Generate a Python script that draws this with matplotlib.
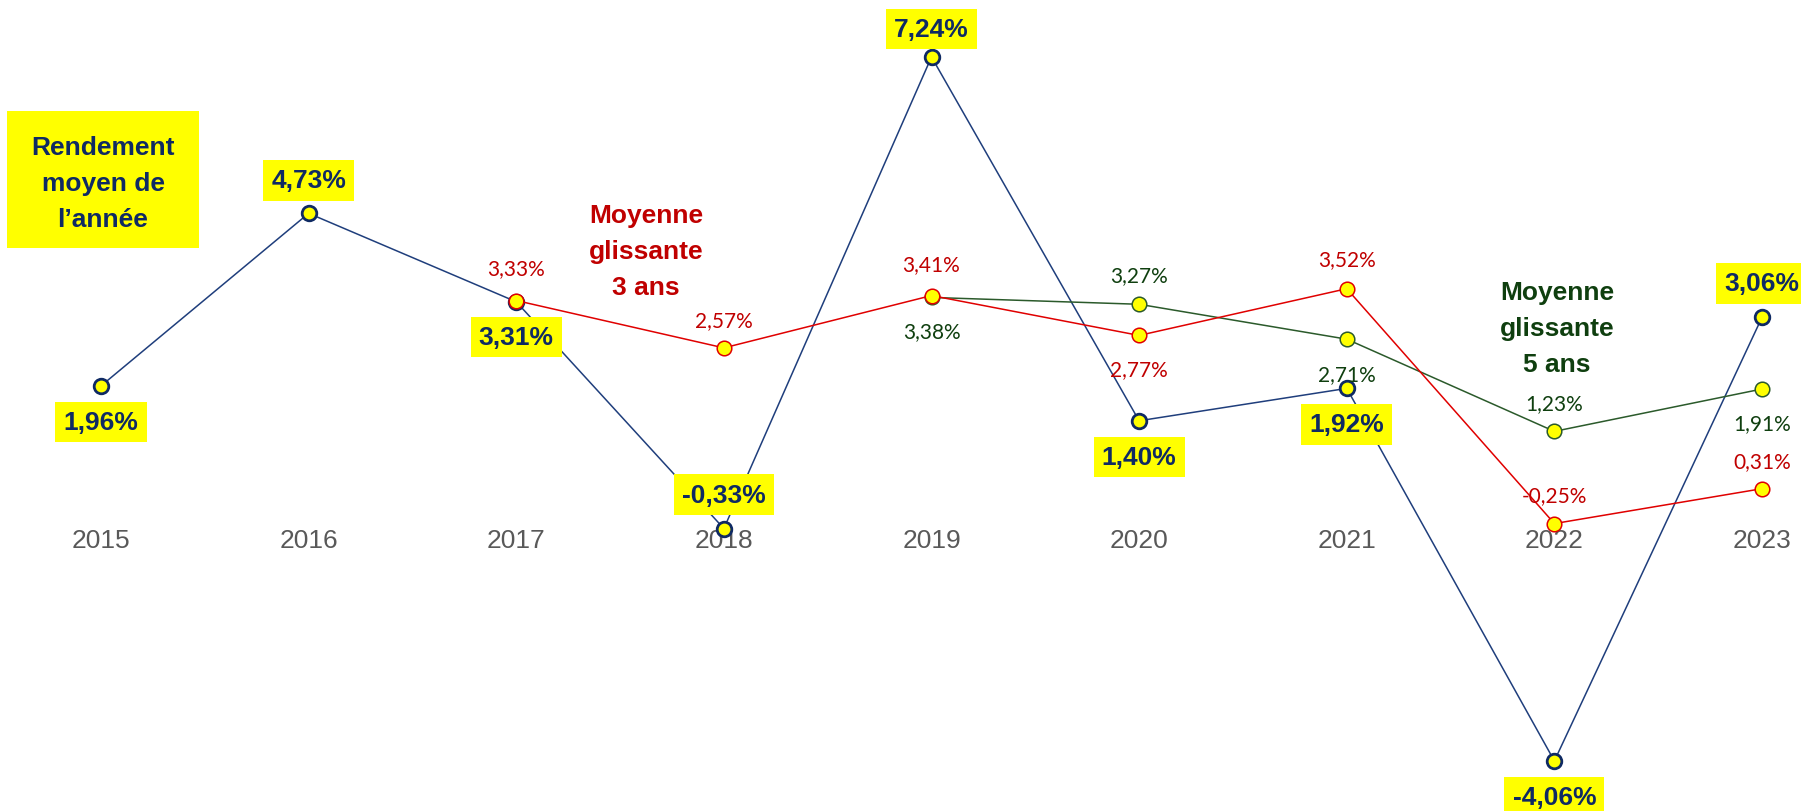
import matplotlib
matplotlib.use("Agg")
import matplotlib.pyplot as plt
from matplotlib.patches import Rectangle

# ---- data ----
years = [2015, 2016, 2017, 2018, 2019, 2020, 2021, 2022, 2023]
rendement = [1.96, 4.73, 3.31, -0.33, 7.24, 1.40, 1.92, -4.06, 3.06]
moy3_years = [2017, 2018, 2019, 2020, 2021, 2022, 2023]
moy3 = [3.33, 2.57, 3.41, 2.77, 3.52, -0.25, 0.31]
moy5_years = [2019, 2020, 2021, 2022, 2023]
moy5 = [3.38, 3.27, 2.71, 1.23, 1.91]

# label offsets (pixels, vertical)
off_rend = [-36, 33, -35, 34, 28, -36, -36, -36, 34]
off_m3 = [32, 28, 31, -34, 30, 28, 28]
off_m5 = [-34, 29, -35, 28, -34]

NAVY = "#0F2A63"
BLUE_LINE = "#1F3E7C"
RED = "#C00000"
RED_LINE = "#E00000"
GREEN = "#0F3F0F"
GREEN_LINE = "#2B5A2B"
YELLOW = "#FFFF00"

def fmt(v):
    return f"{v:.2f}".replace(".", ",") + "%"

W, H = 1801, 812
fig = plt.figure(figsize=(W / 100, H / 100), dpi=100)
ax = fig.add_axes([0, 0, 1, 1])
ax.axis("off")

px_per_year = (1762 - 101) / 8
px_per_unit = 62.3
zero_px = 509
ax.set_xlim(2015 - 101 / px_per_year, 2015 + (W - 101) / px_per_year)
ax.set_ylim(-(H - zero_px) / px_per_unit, zero_px / px_per_unit)

# lines
ax.plot(years, rendement, color=BLUE_LINE, lw=1.1, marker="o", ms=10.5,
        mfc=YELLOW, mec=NAVY, mew=2.0, zorder=2)
ax.plot(moy5_years, moy5, color=GREEN_LINE, lw=1.1, marker="o", ms=10.5,
        mfc=YELLOW, mec=GREEN_LINE, mew=1.1, zorder=3)
ax.plot(moy3_years, moy3, color=RED_LINE, lw=1.1, marker="o", ms=10.5,
        mfc=YELLOW, mec=RED_LINE, mew=1.1, zorder=4)

BOLD = ["Liberation Sans", "DejaVu Sans"]
SMALL = ["Lato", "DejaVu Sans"]

for x, v, o in zip(years, rendement, off_rend):
    ax.annotate(fmt(v), (x, v), xytext=(0, o), textcoords="offset pixels",
                ha="center", va="center", fontsize=19, fontweight="bold",
                family=BOLD, color=NAVY, zorder=6,
                bbox=dict(boxstyle="square,pad=0.31", fc=YELLOW, ec="none"))

for x, v, o in zip(moy3_years, moy3, off_m3):
    ax.annotate(fmt(v), (x, v), xytext=(0, o), textcoords="offset pixels",
                ha="center", va="center", fontsize=15, family=SMALL,
                color=RED, zorder=5)

for x, v, o in zip(moy5_years, moy5, off_m5):
    ax.annotate(fmt(v), (x, v), xytext=(0, o), textcoords="offset pixels",
                ha="center", va="center", fontsize=15, family=SMALL,
                color=GREEN, zorder=5)

# year labels at the zero axis
for x in years:
    ax.annotate(str(x), (x, 0), xytext=(0, -32), textcoords="offset pixels",
                ha="center", va="center", fontsize=19, family=BOLD,
                color="#595959", zorder=1)

# explanatory texts
fig.patches.append(Rectangle((7 / W, 1 - 249 / H), 192 / W, 137 / H,
                             transform=fig.transFigure, fc=YELLOW, ec="none",
                             zorder=0))
fig.text(103 / W, 1 - 184 / H, "Rendement\nmoyen de\nl’année", ha="center",
         va="center", fontsize=19, fontweight="bold", family=BOLD, color=NAVY,
         linespacing=1.62, zorder=7)
fig.text(646 / W, 1 - 252 / H, "Moyenne\nglissante\n3 ans", ha="center",
         va="center", fontsize=19, fontweight="bold", family=BOLD, color=RED,
         linespacing=1.62)
fig.text(1557 / W, 1 - 329 / H, "Moyenne\nglissante\n5 ans", ha="center",
         va="center", fontsize=19, fontweight="bold", family=BOLD, color=GREEN,
         linespacing=1.62)

fig.savefig("out.png", dpi=100, facecolor="white")
